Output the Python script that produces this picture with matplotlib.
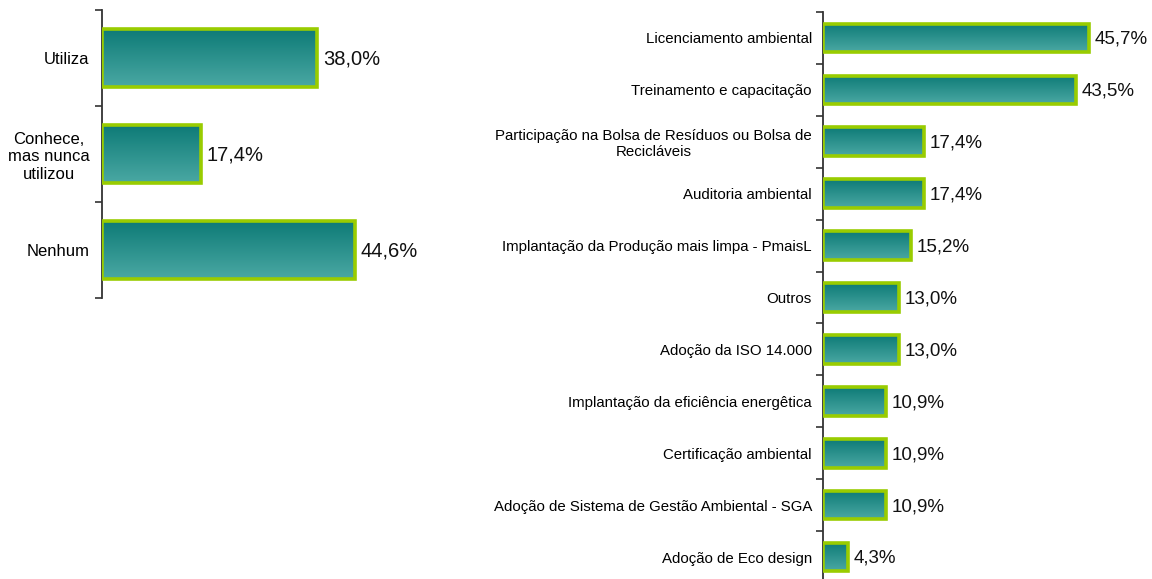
import matplotlib
matplotlib.use("Agg")
import matplotlib.pyplot as plt
import numpy as np
from matplotlib.colors import LinearSegmentedColormap

plt.rcParams['font.family'] = ['Liberation Sans', 'DejaVu Sans']

left_cats = ["Utiliza", "Conhece,\nmas nunca\nutilizou", "Nenhum"]
left_vals = [38.0, 17.4, 44.6]

right_cats = ["Licenciamento ambiental",
              "Treinamento e capacitação",
              "Participação na Bolsa de Resíduos ou Bolsa de\nRecicláveis",
              "Auditoria ambiental",
              "Implantação da Produção mais limpa - PmaisL",
              "Outros",
              "Adoção da ISO 14.000",
              "Implantação da eficiência energêtica",
              "Certificação ambiental",
              "Adoção de Sistema de Gestão Ambiental - SGA",
              "Adoção de Eco design"]
right_vals = [45.7, 43.5, 17.4, 17.4, 15.2, 13.0, 13.0, 10.9, 10.9, 10.9, 4.3]

W, H = 1152, 579
fig = plt.figure(figsize=(W / 100, H / 100), dpi=100)

cmap = LinearSegmentedColormap.from_list("teal", ["#0E7B77", "#4AA8A3"])
grad = np.linspace(0, 1, 64).reshape(-1, 1)


def draw(ax, cats, vals, height, lab_fs, val_fs, xmax, pad, voff):
    n = len(cats)
    y = np.arange(n)
    bars = ax.barh(y, vals, height=height, color="#2A8F8A",
                   edgecolor="#99CC00", linewidth=2.6, zorder=2)
    for b in bars:
        x0, y0 = b.get_x(), b.get_y()
        w, h = b.get_width(), b.get_height()
        im = ax.imshow(grad, cmap=cmap, aspect="auto",
                       extent=(x0, x0 + w, y0 + h, y0), origin="upper",
                       zorder=2.5, interpolation="bicubic")
        im.set_clip_path(b)
        b.set_facecolor("none")
        b.set_zorder(3)
    for yi, v in zip(y, vals):
        ax.annotate(f"{v:.1f}%".replace(".", ","), (v, yi),
                    xytext=(voff, -1), textcoords="offset points",
                    ha="left", va="center", fontsize=val_fs, color="#111111")
    ax.set_xlim(0, xmax)
    ax.set_ylim(n - 0.5, -0.5)
    ax.set_yticks(y)
    ax.set_yticklabels(cats, fontsize=lab_fs, multialignment="center")
    ax.set_yticks(np.arange(n + 1) - 0.5, minor=True)
    ax.tick_params(axis="y", which="major", length=0, pad=pad)
    ax.tick_params(axis="y", which="minor", length=5, width=1.2, color="#333333")
    ax.set_xticks([])
    for s in ["top", "right", "bottom"]:
        ax.spines[s].set_visible(False)
    ax.spines["left"].set_color("#333333")
    ax.spines["left"].set_linewidth(1.3)


ax1 = fig.add_axes([102 / W, (H - 298) / H, 340 / W, 288 / H])
draw(ax1, left_cats, left_vals, 0.6, 12, 14.5, 60, 9, 4)

ax2 = fig.add_axes([823 / W, (H - 583) / H, 320 / W, 571 / H])
draw(ax2, right_cats, right_vals, 0.55, 10.8, 13.5, 55, 8, 4)

fig.savefig("out.png", dpi=100)
